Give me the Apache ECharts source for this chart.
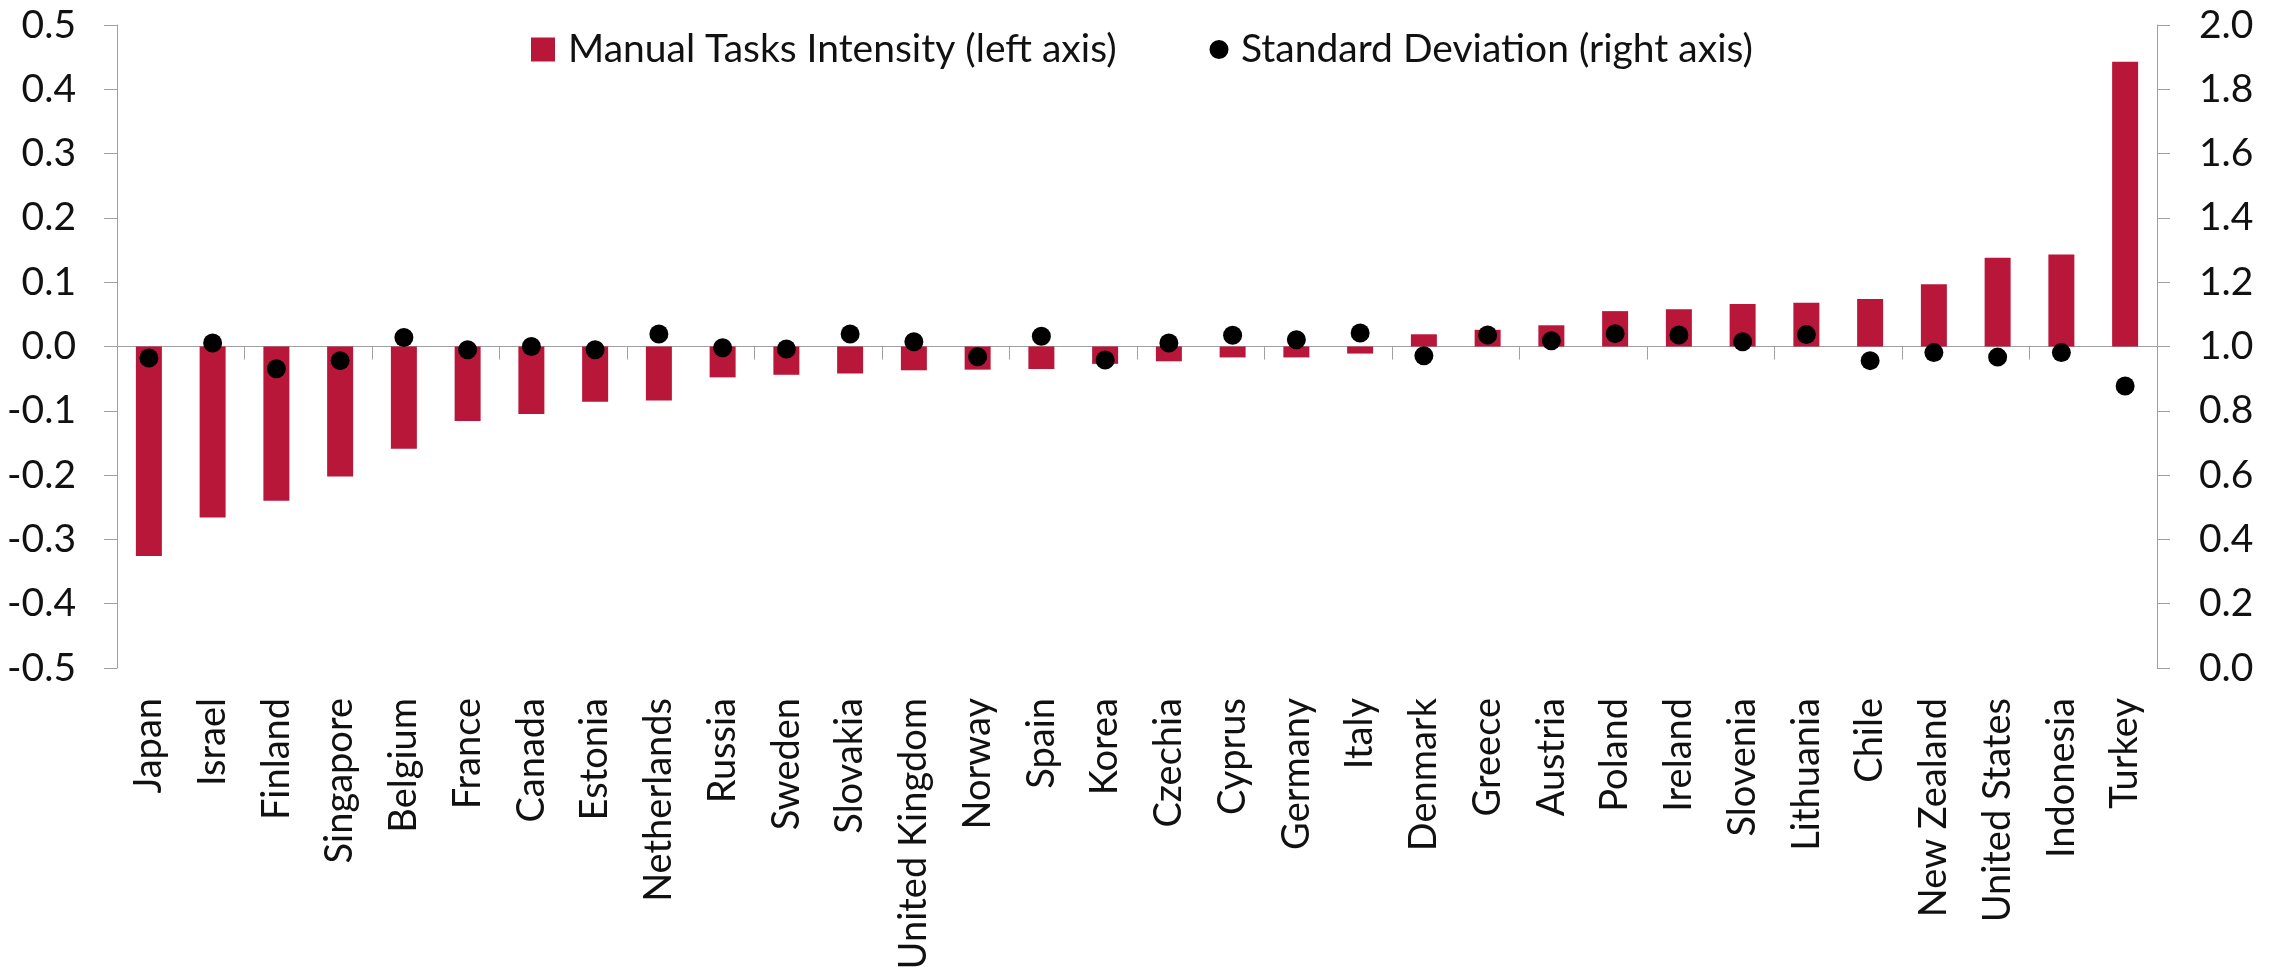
<!DOCTYPE html>
<html>
<head>
<meta charset="utf-8">
<script src="https://cdn.jsdelivr.net/npm/echarts@6/dist/echarts.min.js"></script>
<style>
  html, body { margin: 0; padding: 0; background: #fff; }
  #chart { width: 2279px; height: 973px; }
</style>
</head>
<body>
<div id="chart"></div>
<script>
const countries = ['Japan','Israel','Finland','Singapore','Belgium','France','Canada','Estonia','Netherlands','Russia','Sweden','Slovakia','United Kingdom','Norway','Spain','Korea','Czechia','Cyprus','Germany','Italy','Denmark','Greece','Austria','Poland','Ireland','Slovenia','Lithuania','Chile','New Zealand','United States','Indonesia','Turkey'];
const manualTasksIntensity = [-0.326,-0.266,-0.240,-0.202,-0.159,-0.116,-0.105,-0.086,-0.084,-0.048,-0.044,-0.042,-0.037,-0.036,-0.035,-0.027,-0.023,-0.017,-0.017,-0.011,0.019,0.026,0.033,0.055,0.058,0.066,0.068,0.074,0.097,0.138,0.143,0.443];
const standardDeviation = [0.964,1.011,0.931,0.956,1.028,0.990,1.000,0.990,1.039,0.996,0.992,1.039,1.015,0.968,1.032,0.958,1.011,1.035,1.021,1.042,0.971,1.036,1.018,1.040,1.036,1.015,1.037,0.956,0.981,0.967,0.981,0.877];
const seriesNames = ['Manual Tasks Intensity (left axis)', 'Standard Deviation (right axis)'];
const leftAxisRange = [-0.5, 0.5, 0.1];
const rightAxisRange = [0, 2, 0.2];

const FONT = 'Lato';
const FS = 39;
const FSX = 38;
const TXT = '#111111';
const AXC = '#a0a0a0';

function fmt1(v) { return Math.abs(v) < 1e-9 ? '0.0' : v.toFixed(1); }

const chart = echarts.init(document.getElementById('chart'), null, { renderer: 'canvas' });
chart.setOption({
  animation: false,
  backgroundColor: '#ffffff',
  textStyle: { fontFamily: FONT, color: TXT },
  grid: { left: 117, right: 122, top: 25, bottom: 305, containLabel: false, outerBoundsMode: 'none' },
  legend: [
    {
      data: [{ name: seriesNames[0], icon: 'rect' }],
      left: 526, top: 25, itemWidth: 24, itemHeight: 24,
      textStyle: { fontFamily: FONT, fontSize: FS, color: TXT, lineHeight: 24, padding: [0, 0, 0, 8] }
    },
    {
      data: [{ name: seriesNames[1], icon: 'path://M12,2.5A9.5,9.5 0 1,0 12.001,2.5Z M0,0h0.01v0.01h-0.01Z M23.99,23.99h0.01v0.01h-0.01Z' }],
      left: 1202, top: 25, itemWidth: 24, itemHeight: 24,
      textStyle: { fontFamily: FONT, fontSize: FS, color: TXT, lineHeight: 24, padding: [0, 0, 0, 5] }
    }
  ],
  xAxis: [
    {
      type: 'category', data: countries, position: 'bottom', boundaryGap: true,
      axisLine: { show: true, onZero: true, onZeroAxisIndex: 0, lineStyle: { color: AXC, width: 1 } },
      axisTick: { show: true, length: 13, alignWithLabel: false, lineStyle: { color: AXC } },
      axisLabel: { show: false },
      splitLine: { show: false }
    },
    {
      type: 'category', data: countries, position: 'bottom', boundaryGap: true,
      axisLine: { show: false, onZero: false },
      axisTick: { show: false },
      axisLabel: { show: true, rotate: 90, margin: 30, fontFamily: FONT, fontSize: FSX, color: TXT, interval: 0 },
      splitLine: { show: false }
    }
  ],
  yAxis: [
    {
      type: 'value', position: 'left', min: leftAxisRange[0], max: leftAxisRange[1], interval: leftAxisRange[2],
      axisLine: { show: true, lineStyle: { color: AXC, width: 1 } },
      axisTick: { show: true, length: 13, inside: false, lineStyle: { color: AXC } },
      axisLabel: { margin: 41, fontFamily: FONT, fontSize: FS, color: TXT, formatter: fmt1 },
      splitLine: { show: false }
    },
    {
      type: 'value', position: 'right', min: rightAxisRange[0], max: rightAxisRange[1], interval: rightAxisRange[2],
      axisLine: { show: true, lineStyle: { color: AXC, width: 1 } },
      axisTick: { show: true, length: 13, inside: false, lineStyle: { color: AXC } },
      axisLabel: { margin: 42, fontFamily: FONT, fontSize: FS, color: TXT, formatter: fmt1 },
      splitLine: { show: false }
    }
  ],
  series: [
    {
      name: seriesNames[0], type: 'bar', xAxisIndex: 0, yAxisIndex: 0,
      data: manualTasksIntensity, barWidth: 26,
      itemStyle: { color: '#b8173a' }
    },
    {
      name: seriesNames[1], type: 'scatter', xAxisIndex: 0, yAxisIndex: 1,
      data: standardDeviation, symbol: 'circle', symbolSize: 19,
      itemStyle: { color: '#000000', opacity: 1 }
    }
  ]
});
</script>
</body>
</html>
